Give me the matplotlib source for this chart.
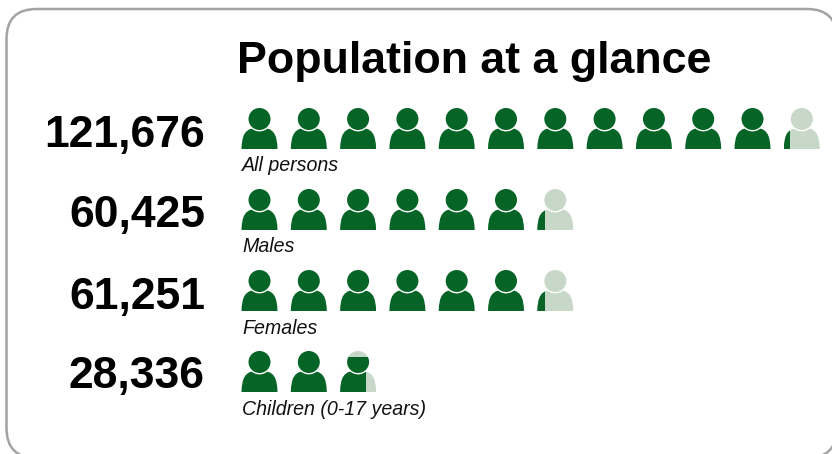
import matplotlib
matplotlib.use("Agg")
import matplotlib.pyplot as plt
from matplotlib.patches import Circle, FancyBboxPatch, PathPatch, Rectangle
from matplotlib.path import Path

labels = ["All persons", "Males", "Females", "Children (0-17 years)"]
values = [121676, 60425, 61251, 28336]
full_icons = [11, 6, 6, 2]
# how much of the last figure is filled: across the body, and off the top of the head
shown_part = [0.185, 0.2, 0.2, 0.72]
top_cut = [0, 0, 0, 0.3]

DARK = "#056426"
LIGHT = "#c8d8c8"
FONT = ["Liberation Sans", "DejaVu Sans"]

rows_y = [149, 230, 311, 392]
number_y = [147, 227, 309, 388]
label_y = [171, 252, 334, 415]
x_first = 241.5
x_step = 49.3
icon_w = 36
head_r = 11.7


def body_path(x, base):
    # rounded shoulders, flat at the bottom
    w = icon_w
    verts = [(x, base), (x + 0.5, base - 14), (x + 3, base - 21.5), (x + w / 2, base - 21.5),
             (x + w - 3, base - 21.5), (x + w - 0.5, base - 14), (x + w, base), (x, base)]
    codes = [Path.MOVETO, Path.CURVE4, Path.CURVE4, Path.CURVE4,
             Path.CURVE4, Path.CURVE4, Path.CURVE4, Path.CLOSEPOLY]
    return Path(verts, codes)


def draw_person(ax, x, base, color):
    body = PathPatch(body_path(x, base), fc=color, ec="none")
    # white ring keeps the head apart from the shoulders
    head = Circle((x + icon_w / 2, base - 30), head_r, fc=color, ec="white", lw=1.0)
    ax.add_patch(body)
    ax.add_patch(head)
    return body, head


fig = plt.figure(figsize=(8.32, 4.54), dpi=100)
ax = fig.add_axes([0, 0, 1, 1])
ax.set_xlim(0, 832)
ax.set_ylim(454, 0)
ax.axis("off")

# card outline runs past the right and bottom edges
ax.add_patch(FancyBboxPatch((6.5, 9), 830.5, 449, boxstyle="round,pad=0,rounding_size=30",
                            fc="white", ec="#a3a3a3", lw=1.8))

ax.text(474, 73, "Population at a glance", ha="center", va="baseline",
        fontsize=32.2, fontweight="bold", family=FONT, color="black")

for i in range(len(values)):
    base = rows_y[i]
    ax.text(205, number_y[i], f"{values[i]:,}", ha="right", va="baseline",
            fontsize=32, fontweight="bold", family=FONT, color="black")
    ax.text(242, label_y[i], labels[i], ha="left", va="baseline",
            fontsize=14.1, style="italic", family=FONT, color="#111111")
    for n in range(full_icons[i]):
        draw_person(ax, x_first + n * x_step, base, DARK)

    # last figure is partly filled
    x = x_first + full_icons[i] * x_step
    draw_person(ax, x, base, LIGHT)
    body, head = draw_person(ax, x, base, DARK)
    body.set_clip_path(Rectangle((x, base - 25), icon_w * shown_part[i], 30, transform=ax.transData))
    if top_cut[i] > 0:
        head_top = base - 30 - head_r
        head.set_clip_path(Rectangle((x, head_top + 2 * head_r * top_cut[i]), icon_w, 40,
                                     transform=ax.transData))
    else:
        head.set_visible(False)

fig.savefig("out.png", dpi=100)
